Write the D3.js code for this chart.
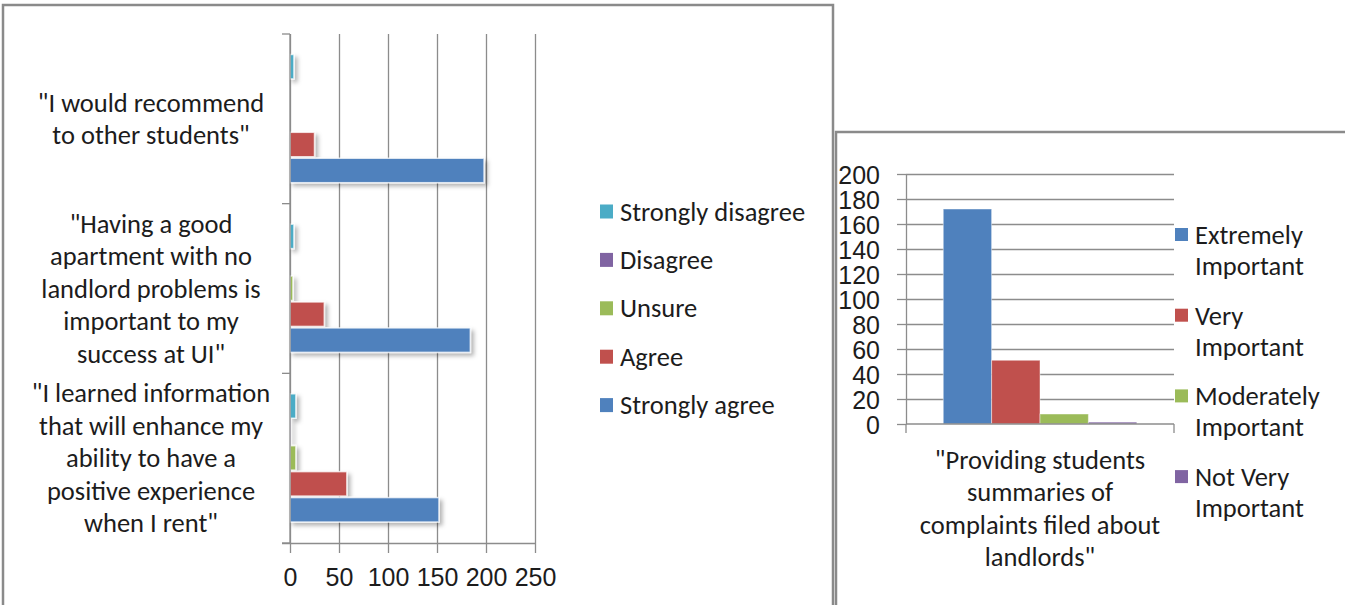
<!DOCTYPE html>
<html lang="en">
<head>
  <meta charset="UTF-8" />
  <title>Survey responses</title>
  <style>
    body {
      margin: 0;
      background: #fff;
      font-family: Carlito, Lato, 'Liberation Sans', sans-serif;
    }
    svg text {
      fill: #1c1c1c;
      font-size: 26.5px;
    }
    .frame {
      fill: none;
      stroke: #8a8a8a;
      stroke-width: 2.5px;
    }
    .grid line {
      stroke: #8c8c8c;
      stroke-width: 1.3px;
    }
    .grid path { display: none; }
    .axis line, .axis path {
      stroke: #8c8c8c;
      stroke-width: 1.3px;
    }
    svg .axis text { font-size: 25px; }
  </style>
</head>
<body>
  <svg width="1345" height="605"></svg>

  <script src="https://d3js.org/d3.v7.min.js"></script>
  <script>
    // --- data
    const statementLines = [
      ['"I would recommend', 'to other students"'],
      ['"Having a good', 'apartment with no', 'landlord problems is', 'important to my', 'success at UI"'],
      ['"I learned information', 'that will enhance my', 'ability to have a', 'positive experience', 'when I rent"']
    ];
    const statements = statementLines.map(l => l.join(" "));
    const likertSeries = ["Strongly disagree", "Disagree", "Unsure", "Agree", "Strongly agree"];
    const stronglyDisagree = [4, 4, 6];
    const disagree = [0, 0, 1];
    const unsure = [0, 3, 6];
    const agree = [25, 35, 58];
    const stronglyAgree = [198, 184, 152];
    const likertTicks = [0, 50, 100, 150, 200, 250];

    const importanceCategoryLines = ['"Providing students', 'summaries of', 'complaints filed about', 'landlords"'];
    const importanceSeries = ["Extremely Important", "Very Important", "Moderately Important", "Not Very Important"];
    const importanceValues = [172, 51, 8, 1.5];
    const importanceTicks = [0, 20, 40, 60, 80, 100, 120, 140, 160, 180, 200];

    const likertColors = {
      "Strongly disagree": "#4BACC6", "Disagree": "#8064A2", "Unsure": "#9BBB59",
      "Agree": "#C0504D", "Strongly agree": "#4F81BD"
    };
    const importanceColors = ["#4F81BD", "#C0504D", "#9BBB59", "#8064A2"];

    const svg = d3.select("svg");

    // shadow for the left chart's bars
    svg.append("defs").append("filter").attr("id", "shadow")
      .attr("x", "-10%").attr("y", "-30%").attr("width", "130%").attr("height", "180%")
      .append("feDropShadow")
        .attr("dx", 3).attr("dy", 3).attr("stdDeviation", 2)
        .attr("flood-color", "#000").attr("flood-opacity", 0.3);

    // chart frames
    svg.append("rect").attr("class", "frame").attr("x", 3).attr("y", 5).attr("width", 830).attr("height", 640);
    svg.append("rect").attr("class", "frame").attr("x", 836).attr("y", 132).attr("width", 540).attr("height", 520);

    // ================= left chart: horizontal grouped bars
    const L = { left: 290, right: 535, top: 34, bottom: 543 };
    const x = d3.scaleLinear().domain([0, 250]).range([L.left, L.right]);
    const yCat = d3.scaleBand().domain(statements).range([L.top, L.bottom]);
    const ySer = d3.scaleBand().domain(likertSeries).range([0, yCat.bandwidth()]).paddingOuter(0.77);

    const lg = svg.append("g");

    lg.append("g").attr("class", "grid")
      .attr("transform", `translate(0,${L.bottom})`)
      .call(d3.axisBottom(x).tickValues(likertTicks).tickSize(-(L.bottom - L.top)).tickFormat(""));

    const rows = likertSeries.map(s => ({
      series: s,
      values: { "Strongly disagree": stronglyDisagree, "Disagree": disagree, "Unsure": unsure,
                "Agree": agree, "Strongly agree": stronglyAgree }[s]
    }));

    const bars = [];
    rows.forEach(r => r.values.forEach((v, i) => bars.push({ series: r.series, cat: statements[i], value: v })));

    lg.append("g").attr("filter", "url(#shadow)")
      .selectAll("rect").data(bars.filter(d => d.value > 0)).join("rect")
        .attr("x", x(0))
        .attr("y", d => yCat(d.cat) + ySer(d.series) + 0.5)
        .attr("width", d => x(d.value) - x(0))
        .attr("height", ySer.bandwidth() - 1.5)
        .attr("fill", d => likertColors[d.series])
        .attr("stroke", "rgba(255,255,255,0.75)")
        .attr("stroke-width", 1.5);

    // x axis
    lg.append("g").attr("class", "axis")
      .attr("transform", `translate(0,${L.bottom})`)
      .call(d3.axisBottom(x).tickValues(likertTicks).tickSize(10).tickPadding(15).tickSizeOuter(0))
      .call(g => g.select(".domain").attr("d", `M${L.left - 8},0.5H${L.right}`));

    // y axis line with ticks at category boundaries
    const ya = lg.append("g").attr("class", "axis");
    ya.append("line").attr("x1", L.left).attr("x2", L.left).attr("y1", L.top).attr("y2", L.bottom);
    const bounds = statements.map(c => yCat(c)).concat([L.bottom]);
    ya.selectAll(".bt").data(bounds).join("line").attr("class", "bt")
      .attr("x1", L.left - 8).attr("x2", L.left).attr("y1", d => d).attr("y2", d => d);

    // category labels
    const lineH = 32.5;
    lg.selectAll(".cat").data(statementLines).join("text").attr("class", "cat")
      .attr("text-anchor", "middle")
      .each(function(lines, i) {
        const cy = yCat(statements[i]) + yCat.bandwidth() / 2;
        d3.select(this).selectAll("tspan").data(lines).join("tspan")
          .attr("x", 151)
          .attr("y", (d, j) => cy + (j - (lines.length - 1) / 2) * lineH)
          .attr("dominant-baseline", "central")
          .text(d => d);
      });

    // legend
    const legL = lg.append("g").selectAll("g").data(likertSeries).join("g")
      .attr("transform", (d, i) => `translate(600,${211.5 + i * 48.4})`);
    legL.append("rect").attr("x", 0).attr("y", -7).attr("width", 13).attr("height", 14)
      .attr("fill", d => likertColors[d]);
    legL.append("text").attr("x", 20).attr("dominant-baseline", "central").text(d => d);

    // ================= right chart: vertical bars
    const R = { left: 906, right: 1174, top: 174, bottom: 424 };
    const y = d3.scaleLinear().domain([0, 200]).range([R.bottom, R.top]);
    const xCat = d3.scaleBand().domain(["summaries"]).range([R.left, R.right]);
    const xSer = d3.scaleBand().domain(importanceSeries).range([0, xCat.bandwidth()]).paddingOuter(0.77);

    const rg = svg.append("g");

    rg.append("g").attr("class", "grid")
      .attr("transform", `translate(${R.left},0)`)
      .call(d3.axisLeft(y).tickValues(importanceTicks.slice(1)).tickSize(-(R.right - R.left)).tickFormat(""));

    rg.append("g").attr("class", "axis")
      .attr("transform", `translate(${R.left},0)`)
      .call(d3.axisLeft(y).tickValues(importanceTicks).tickSize(9).tickPadding(17).tickSizeOuter(0))
      .call(g => g.selectAll(".tick text").attr("dy", null).attr("dominant-baseline", "central"));

    rg.append("g")
      .selectAll("rect").data(importanceSeries).join("rect")
        .attr("x", d => xCat("summaries") + xSer(d))
        .attr("y", (d, i) => y(importanceValues[i]))
        .attr("width", xSer.bandwidth())
        .attr("height", (d, i) => y(0) - y(importanceValues[i]))
        .attr("fill", (d, i) => importanceColors[i])
        .attr("stroke", "rgba(255,255,255,0.45)")
        .attr("stroke-width", 1);

    // bottom axis with ticks at band edges
    const xa = rg.append("g").attr("class", "axis");
    xa.append("line").attr("x1", R.left).attr("x2", R.right).attr("y1", R.bottom).attr("y2", R.bottom);
    xa.selectAll(".bt").data(xCat.range()).join("line").attr("class", "bt")
      .attr("x1", d => d).attr("x2", d => d).attr("y1", R.bottom).attr("y2", R.bottom + 9);

    rg.append("text").attr("text-anchor", "middle")
      .selectAll("tspan").data(importanceCategoryLines).join("tspan")
        .attr("x", xCat("summaries") + xCat.bandwidth() / 2)
        .attr("y", (d, j) => 460 + j * 32.4)
        .attr("dominant-baseline", "central")
        .text(d => d);

    // legend: two lines per entry
    const legR = rg.append("g").selectAll("g").data(importanceSeries).join("g")
      .attr("transform", (d, i) => `translate(1175,${235 + i * 80.7})`);
    legR.append("rect").attr("x", 0).attr("y", -7).attr("width", 13).attr("height", 13)
      .attr("fill", (d, i) => importanceColors[i]);
    legR.append("text").each(function(d) {
      const cut = d.lastIndexOf(" ");
      d3.select(this).selectAll("tspan").data([d.slice(0, cut), d.slice(cut + 1)]).join("tspan")
        .attr("x", 20).attr("y", (t, j) => j * 31)
        .attr("dominant-baseline", "central")
        .text(t => t);
    });
  </script>
</body>
</html>
